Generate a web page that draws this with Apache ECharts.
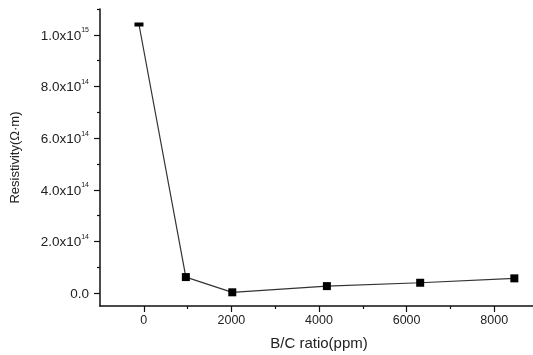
<!DOCTYPE html>
<html>
<head>
<meta charset="utf-8">
<script src="https://cdn.jsdelivr.net/npm/echarts@6/dist/echarts.min.js"></script>
<style>
  html, body { margin: 0; padding: 0; background: #fff; }
  #chart { width: 533px; height: 355px; }
</style>
</head>
<body>
<div id="chart"></div>
<script>
// B/C ratio (ppm) vs. resistivity (Ω·m)
const ratioPpm = [-110, 960, 2020, 4180, 6310, 8460];
const resistivity = [1.04e15, 6.2e13, 3e12, 2.7e13, 4.0e13, 5.7e13];

const xMajorTicks = [0, 2000, 4000, 6000, 8000];
const xMinorTicks = [1000, 3000, 5000, 7000, 9000];
const yMajorTicks = [0, 2e14, 4e14, 6e14, 8e14, 1e15];
const yMinorTicks = [1e14, 3e14, 5e14, 7e14, 9e14, 1.1e15];

const FONT = '"Liberation Sans", Arial, sans-serif';
const INK = '#222';

function sciLabel(v) {
  if (v === 0) return '{m|0.0}';
  const exp = Math.floor(Math.log10(Math.abs(v)) + 1e-9);
  const mant = v / Math.pow(10, exp);
  return '{m|' + mant.toFixed(1) + 'x10}{e|' + exp + '}';
}

const chart = echarts.init(document.getElementById('chart'), null, { renderer: 'canvas' });

const xBase = { type: 'value', min: -1000, max: 9000, position: 'bottom' };
const yBase = { type: 'value', min: -5e13, max: 1.1e15, position: 'left' };

chart.setOption({
  animation: false,
  backgroundColor: '#fff',
  grid: { left: 100, right: -5, top: 9, bottom: 49, containLabel: false, outerBoundsMode: 'none' },
  xAxis: [
    Object.assign({}, xBase, {
      name: 'B/C ratio(ppm)',
      nameLocation: 'middle',
      nameGap: 30,
      nameTextStyle: { fontFamily: FONT, fontSize: 15, color: INK },
      axisLine: { show: true, onZero: false, lineStyle: { color: '#111', width: 1.5 } },
      axisTick: { show: true, inside: false, length: 6, customValues: xMajorTicks, lineStyle: { color: '#111', width: 1.2 } },
      axisLabel: { show: true, customValues: xMajorTicks, margin: 8, fontFamily: FONT, fontSize: 12.5, color: INK,
                   formatter: v => String(v) },
      splitLine: { show: false }
    }),
    Object.assign({}, xBase, {
      axisLine: { show: false, onZero: false },
      axisTick: { show: true, inside: false, length: 3, customValues: xMinorTicks, lineStyle: { color: '#111', width: 1.2 } },
      axisLabel: { show: false },
      splitLine: { show: false }
    })
  ],
  yAxis: [
    Object.assign({}, yBase, {
      name: 'Resistivity(Ω·m)',
      nameLocation: 'middle',
      nameGap: 78,
      nameRotate: 90,
      nameTextStyle: { fontFamily: FONT, fontSize: 13, color: INK },
      axisLine: { show: true, onZero: false, lineStyle: { color: '#111', width: 1.5 } },
      axisTick: { show: true, inside: false, length: 6, customValues: yMajorTicks, lineStyle: { color: '#111', width: 1.2 } },
      axisLabel: {
        show: true,
        customValues: yMajorTicks,
        margin: 11,
        formatter: sciLabel,
        rich: {
          m: { fontFamily: FONT, fontSize: 13.5, color: INK, lineHeight: 16, verticalAlign: 'bottom' },
          e: { fontFamily: FONT, fontSize: 7, color: INK, lineHeight: 16, verticalAlign: 'top' }
        }
      },
      splitLine: { show: false }
    }),
    Object.assign({}, yBase, {
      axisLine: { show: false, onZero: false },
      axisTick: { show: true, inside: false, length: 3, customValues: yMinorTicks, lineStyle: { color: '#111', width: 1.2 } },
      axisLabel: { show: false },
      splitLine: { show: false }
    })
  ],
  series: [{
    type: 'line',
    xAxisIndex: 0,
    yAxisIndex: 0,
    data: ratioPpm.map((x, i) => ({
      value: [x, resistivity[i]],
      symbolSize: i === 0 ? [9, 4] : 8
    })),
    symbol: 'rect',
    lineStyle: { color: '#333', width: 1.2 },
    itemStyle: { color: '#000' },
    clip: false
  }]
});
</script>
</body>
</html>
